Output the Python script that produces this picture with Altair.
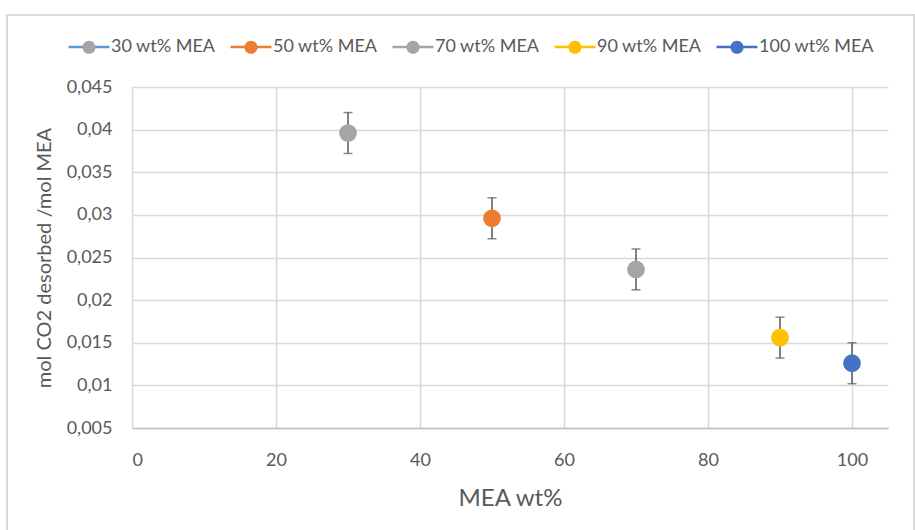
import altair as alt
import pandas as pd

# MEA concentration (wt%) and desorbed CO2 loading
series = ["30 wt% MEA", "50 wt% MEA", "70 wt% MEA", "90 wt% MEA", "100 wt% MEA"]
mea_wt = [30, 50, 70, 90, 100]
co2_desorbed = [0.0396, 0.0296, 0.0236, 0.0156, 0.0126]
error = [0.0024, 0.0024, 0.0024, 0.0024, 0.0024]

marker_colors = ["#A5A5A5", "#ED7D31", "#A5A5A5", "#FFC000", "#4472C4"]
line_colors = ["#5B9BD5", "#ED7D31", "#A5A5A5", "#FFC000", "#4472C4"]

x_ticks = [0, 20, 40, 60, 80, 100]
y_ticks = [0.005, 0.01, 0.015, 0.02, 0.025, 0.03, 0.035, 0.04, 0.045]

df = pd.DataFrame({
    "series": series,
    "mea": mea_wt,
    "co2": co2_desorbed,
    "err": error,
})
df["lo"] = df["co2"] - df["err"]
df["hi"] = df["co2"] + df["err"]

FONT = "Lato"
TEXT = "#595959"
GRID = "#D9D9D9"

x_enc = alt.X(
    "mea:Q",
    scale=alt.Scale(domain=[0, 105], nice=False, zero=False),
    axis=alt.Axis(
        values=x_ticks, title="MEA wt%", grid=True, gridColor=GRID, gridWidth=1.5,
        domainColor="#BFBFBF", domainWidth=1.5, ticks=False,
        labelFont=FONT, labelFontSize=18, labelColor=TEXT, labelPadding=23,
        titleFont=FONT, titleFontSize=24, titleColor=TEXT, titleFontWeight="normal",
        titlePadding=17,
    ),
)
y_scale = alt.Scale(domain=[0.005, 0.045], nice=False, zero=False)
y_axis = alt.Axis(
    values=y_ticks, title="mol CO2 desorbed /mol MEA", grid=True, gridColor=GRID,
    gridWidth=1.5, domain=False, ticks=False,
    labelExpr="replace(format(datum.value, '~g'), '.', ',')",
    labelFont=FONT, labelFontSize=18, labelColor=TEXT, labelPadding=20,
    titleFont=FONT, titleFontSize=20, titleColor=TEXT, titleFontWeight="normal",
    titlePadding=12,
)

base = alt.Chart(df)

# chart frame
frame = base.mark_rect(fill="transparent", stroke=GRID, strokeWidth=1.5).encode(
    x=alt.value(-125), x2=alt.value(782), y=alt.value(-72), y2=alt.value(460)
)

# error bars: stems and caps
stems = base.mark_rule(color=TEXT, strokeWidth=1.5).encode(
    x=x_enc, y=alt.Y("lo:Q", scale=y_scale, axis=y_axis), y2="hi:Q"
)
caps_hi = base.mark_tick(color=TEXT, orient="horizontal", size=9, thickness=1.5).encode(
    x="mea:Q", y=alt.Y("hi:Q", scale=y_scale)
)
caps_lo = base.mark_tick(color=TEXT, orient="horizontal", size=9, thickness=1.5).encode(
    x="mea:Q", y=alt.Y("lo:Q", scale=y_scale)
)

legend_common = dict(
    orient="none", direction="horizontal", columns=5, legendX=-65, legendY=-62,
    title=None, padding=0, symbolSize=1681, symbolStrokeWidth=2.5,
    labelFont=FONT, labelFontSize=18, labelColor=TEXT, labelOffset=0,
    columnPadding=9,
)

# series lines (single point each, so only the legend line shows)
lines = base.mark_line(strokeWidth=2.5).encode(
    x="mea:Q",
    y=alt.Y("co2:Q", scale=y_scale),
    stroke=alt.Stroke(
        "series:N",
        scale=alt.Scale(domain=series, range=line_colors),
        legend=alt.Legend(symbolType="stroke", labelOpacity=0, zindex=1, **legend_common),
    ),
)

# legend marker: filled circle, with empty moves at the ends so it spans the line width
marker_path = "M-1,0L-1,0M1,0L1,0M-0.32,0A0.32,0.32,0,1,1,0.32,0A0.32,0.32,0,1,1,-0.32,0Z"

points = base.mark_circle(size=314, opacity=1).encode(
    x="mea:Q",
    y=alt.Y("co2:Q", scale=y_scale),
    fill=alt.Fill(
        "series:N",
        scale=alt.Scale(domain=series, range=marker_colors),
        legend=alt.Legend(
            symbolType=marker_path,
            symbolStrokeColor="transparent", symbolOpacity=1,
            zindex=2, **legend_common,
        ),
    ),
)

chart = (
    alt.layer(frame, stems, caps_hi, caps_lo, lines, points)
    .resolve_scale(fill="independent", stroke="independent")
    .properties(
        width=756,
        height=341,
        autosize=alt.AutoSizeParams(type="none"),
        padding={"left": 132, "top": 87, "right": 27, "bottom": 102},
        background="white",
    )
    .configure_view(stroke=None)
)

chart.save("out.html", embed_options={"renderer": "svg", "actions": False})
